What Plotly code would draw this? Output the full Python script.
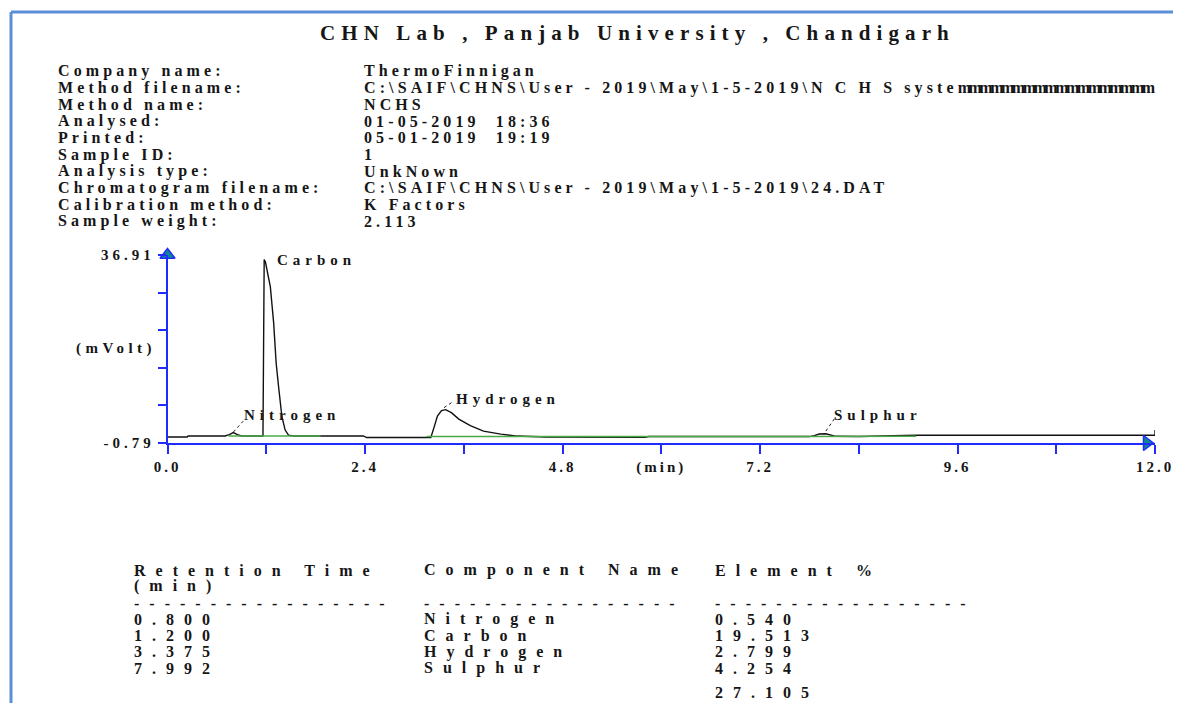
import plotly.graph_objects as go

W, H = 1181, 711
PAD = 8  # default body margin of the html page

# ---- report text ----
title_text = "CHN Lab , Panjab University , Chandigarh"

info_labels = ["Company name:", "Method filename:", "Method name:", "Analysed:", "Printed:",
               "Sample ID:", "Analysis type:", "Chromatogram filename:", "Calibration method:",
               "Sample weight:"]
info_values = ["ThermoFinnigan",
               "C:\\SAIF\\CHNS\\User - 2019\\May\\1-5-2019\\N C H S syste"
               "<span style='letter-spacing:-2.5px'>mmmmmmmmmmmmmmmmmm</span>",
               "NCHS", "01-05-2019&nbsp;&nbsp;18:36", "05-01-2019&nbsp;&nbsp;19:19", "1", "UnkNown",
               "C:\\SAIF\\CHNS\\User - 2019\\May\\1-5-2019\\24.DAT", "K Factors", "2.113"]

# ---- chromatogram signal (min, mVolt) ----
signal_time = [0.0, 0.24, 0.25, 0.70, 0.75, 0.80, 0.85, 0.90, 1.16, 1.175, 1.19, 1.25, 1.29,
               1.32, 1.35, 1.39, 1.43, 1.47, 1.53, 2.38, 2.42, 3.20, 3.24, 3.28, 3.33, 3.38,
               3.45, 3.54, 3.68, 3.84, 4.05, 4.25, 4.60, 5.80, 5.85, 7.80, 7.86, 7.92, 8.00,
               8.06, 8.12, 8.40, 9.10, 12.0, 12.0]
signal_mv = [0.42, 0.42, 0.62, 0.62, 0.9, 1.3, 0.9, 0.62, 0.62, 36.0, 35.5, 30.5, 23.3,
             15.3, 10.5, 4.5, 1.8, 0.8, 0.62, 0.62, 0.3, 0.3, 2.4, 4.6, 5.7, 5.9,
             5.3, 4.0, 2.7, 1.6, 1.0, 0.6, 0.4, 0.35, 0.5, 0.5, 0.7, 1.0, 1.05,
             0.8, 0.55, 0.5, 0.75, 0.75, 1.8]

# integration baselines (green)
base_cn_time = [0.74, 1.86]
base_cn_mv = [0.62, 0.62]
base_h_time = [3.15, 7.75]
base_h_mv = [0.5, 0.5]
base_s_time = [7.75, 9.10]
base_s_mv = [0.5, 0.55]

# peak table
peak_names = ["Nitrogen", "Carbon", "Hydrogen", "Sulphur"]
retention_times = ["0.800", "1.200", "3.375", "7.992"]
element_pct = ["0.540", "19.513", "2.799", "4.254"]
total_pct = "27.105"

y_min, y_max = -0.79, 36.91
x_ticks = [round(1.2 * i, 1) for i in range(11)]
x_ticktext = ["0.0", "", "2.4", "", "4.8", "(min)", "7.2", "", "9.6", "", "12.0"]
y_ticks = [y_min + k * (y_max - y_min) / 5 for k in range(6)]
y_ticktext = ["-0.79", "", "", "", "", "36.91"]

SERIF = "Liberation Serif, Times New Roman, serif"
BLUE = "#1f2bff"
INK = "#161616"

FW, FH = W - 2 * PAD, H - 2 * PAD


def px(x):
    return (x - PAD) / FW


def py(y):
    return 1 - (y - PAD) / FH


def spaced(text, sp):
    return "<span style='letter-spacing:%spx'>%s</span>" % (sp, text)


fig = go.Figure()

fig.add_trace(go.Scatter(x=signal_time, y=signal_mv, mode="lines",
                         line=dict(color="#111111", width=1.4), hoverinfo="skip"))
for bt, bm in [(base_cn_time, base_cn_mv), (base_h_time, base_h_mv), (base_s_time, base_s_mv)]:
    fig.add_trace(go.Scatter(x=bt, y=bm, mode="lines",
                             line=dict(color="#4aa84a", width=1.6), hoverinfo="skip"))

# axis arrow heads
fig.add_trace(go.Scatter(x=[0], y=[y_max], mode="markers", cliponaxis=False,
                         marker=dict(symbol="triangle-up", size=13, color="#0a8a8a",
                                     line=dict(color=BLUE, width=1.5)), hoverinfo="skip"))
fig.add_trace(go.Scatter(x=[11.9], y=[y_min], mode="markers", cliponaxis=False,
                         marker=dict(symbol="triangle-right", size=13, color="#0a8a8a",
                                     line=dict(color=BLUE, width=1.5)), hoverinfo="skip"))

# peak labels with dotted leaders
label_pos = {"Nitrogen": (0.905, 4.8), "Carbon": (1.31, 35.9),
             "Hydrogen": (3.48, 8.0), "Sulphur": (8.08, 4.8)}
leaders = {"Nitrogen": (0.80, 1.4, 0.92, 3.6), "Hydrogen": (3.36, 6.3, 3.48, 7.6),
           "Sulphur": (8.00, 1.6, 8.11, 4.2)}
annotations = []
for name in peak_names:
    lx, ly = label_pos[name]
    annotations.append(dict(x=lx, y=ly, xref="x", yref="y", xanchor="left", yanchor="middle",
                            text="<b>" + spaced(name, 5) + "</b>", showarrow=False,
                            font=dict(family=SERIF, size=15, color=INK)))
shapes = []
for name, (x0, y0, x1, y1) in leaders.items():
    shapes.append(dict(type="line", xref="x", yref="y", x0=x0, y0=y0, x1=x1, y1=y1,
                       line=dict(color="#222222", width=1, dash="dot")))

# page frame
shapes.append(dict(type="line", xref="paper", yref="paper", x0=px(11), x1=px(11), y0=py(12), y1=py(H + 5),
                   line=dict(color="#5b8fd6", width=3)))
shapes.append(dict(type="line", xref="paper", yref="paper", x0=px(11), x1=px(W + 5), y0=py(12), y1=py(12),
                   line=dict(color="#5b8fd6", width=3)))

# title and header block
annotations.append(dict(x=px(637), y=py(33), xref="paper", yref="paper", xanchor="center",
                        yanchor="middle", showarrow=False,
                        text="<b>" + spaced(title_text, 6.1) + "</b>",
                        font=dict(family=SERIF, size=21, color=INK)))
for i, (lab, val) in enumerate(zip(info_labels, info_values)):
    row_y = 71 + i * 16.7
    annotations.append(dict(x=px(56), y=py(row_y), xref="paper", yref="paper", xanchor="left",
                            yanchor="middle", showarrow=False, text="<b>" + spaced(lab, 4.1) + "</b>",
                            font=dict(family=SERIF, size=16, color=INK)))
    annotations.append(dict(x=px(362), y=py(row_y), xref="paper", yref="paper", xanchor="left",
                            yanchor="middle", showarrow=False, text="<b>" + spaced(val, 4.1) + "</b>",
                            font=dict(family=SERIF, size=16, color=INK)))

annotations.append(dict(x=px(158), y=py(348), xref="paper", yref="paper", xanchor="right",
                        yanchor="middle", showarrow=False, text="<b>" + spaced("(mVolt)", 4.5) + "</b>",
                        font=dict(family=SERIF, size=15, color=INK)))


# results table
def table_text(x, y, txt, anchor="middle"):
    annotations.append(dict(x=px(x), y=py(y), xref="paper", yref="paper", xanchor="left",
                            yanchor=anchor, showarrow=False, text="<b>" + spaced(txt, 10) + "</b>",
                            font=dict(family=SERIF, size=16, color=INK)))


table_text(132, 570, "Retention Time")
table_text(132, 586, "(min)")
table_text(422, 570, "Component Name")
table_text(713, 570, "Element %")
for x0 in (132, 422, 713):
    table_text(x0, 603, "-" * 17)
for i in range(len(peak_names)):
    row_y = 619 + i * 16.4
    table_text(132, row_y, retention_times[i])
    table_text(422, row_y, peak_names[i])
    table_text(713, row_y, element_pct[i])
table_text(713, 703, total_pct, anchor="bottom")

fig.update_layout(
    width=FW, height=FH,
    margin=dict(l=0, r=0, t=0, b=0),
    paper_bgcolor="white", plot_bgcolor="white",
    showlegend=False,
    annotations=annotations,
    shapes=shapes,
    xaxis=dict(domain=[px(167.5), px(1155)], range=[0, 12], showgrid=False, zeroline=False,
               automargin=False, ticklabeloverflow="allow",
               showline=True, linecolor=BLUE, linewidth=1.5,
               ticks="outside", ticklen=9, tickwidth=1.5, tickcolor=BLUE,
               tickvals=x_ticks, ticktext=["<b>" + spaced(t, 3) + "</b>" for t in x_ticktext],
               tickfont=dict(family=SERIF, size=15, color=INK)),
    yaxis=dict(domain=[py(443), py(255)], range=[y_min, y_max], showgrid=False, zeroline=False,
               automargin=False, ticklabeloverflow="allow",
               showline=True, linecolor=BLUE, linewidth=1.5,
               ticks="outside", ticklen=8, tickwidth=1.5, tickcolor=BLUE,
               tickvals=y_ticks, ticktext=["<b>" + spaced(t, 4) + "</b>" for t in y_ticktext],
               tickfont=dict(family=SERIF, size=15, color=INK)),
)

fig.write_html("out.html")
